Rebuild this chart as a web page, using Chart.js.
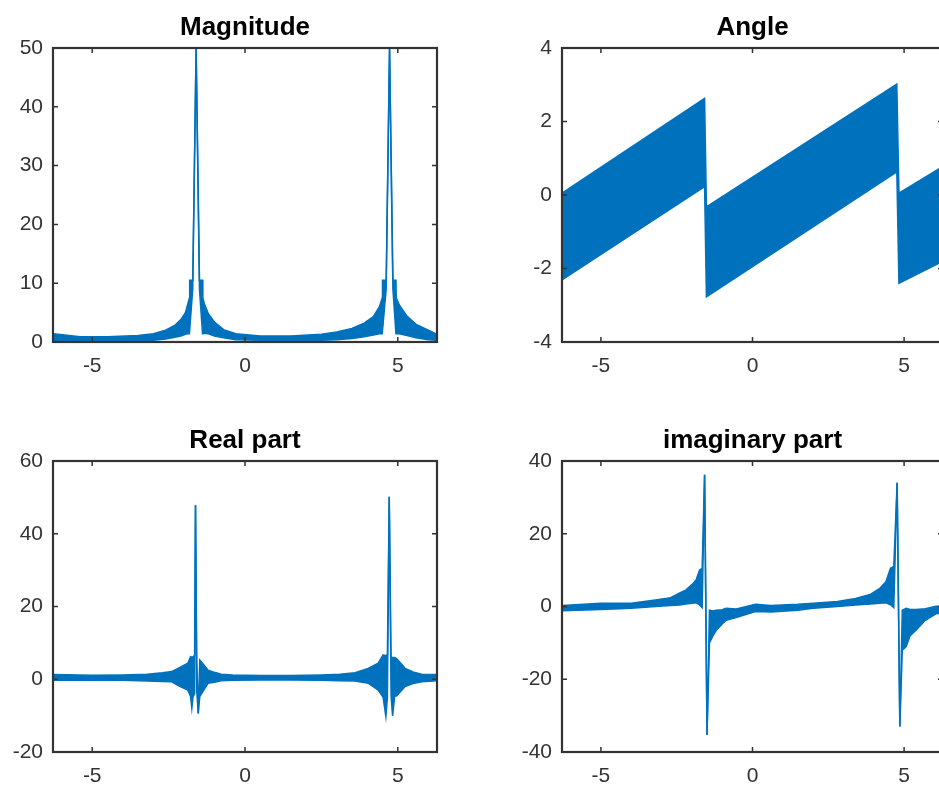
<!DOCTYPE html>
<html>
<head>
<meta charset="utf-8">
<script src="https://cdn.jsdelivr.net/npm/chart.js"></script>
<style>
  body { margin: 0; background: #fff; }
  #fig { position: relative; width: 939px; height: 789px; overflow: hidden; background: #fff; }
  #fig canvas { position: absolute; }
</style>
</head>
<body>
<div id="fig">
  <canvas id="cMag" width="490" height="395" style="left:0px;top:0px"></canvas>
  <canvas id="cAng" width="500" height="395" style="left:470px;top:0px"></canvas>
  <canvas id="cRe" width="490" height="389" style="left:0px;top:400px"></canvas>
  <canvas id="cIm" width="500" height="389" style="left:470px;top:400px"></canvas>
</div>
<script>
// tick labels
var xTicks = [-5, 0, 5];
var magTicks = [0, 10, 20, 30, 40, 50];
var angTicks = [-4, -2, 0, 2, 4];
var reTicks = [-20, 0, 20, 40, 60];
var imTicks = [-40, -20, 0, 20, 40];

// magnitude: upper / lower edge of the oscillating trace
var magX  = [-6.28, -5.9, -5.4, -4.5, -3.5, -3.0, -2.6, -2.3, -2.1, -1.95, -1.87, -1.82, -1.81, -1.71, -1.60, -1.49, -1.39, -1.38, -1.33, -1.2, -1.0, -0.7, -0.3, 0.5, 1.5, 2.5, 3.0, 3.5, 3.9, 4.2, 4.40, 4.49, 4.50, 4.62, 4.73, 4.84, 4.94, 4.95, 5.05, 5.3, 5.6, 6.0, 6.28];
var magHi = [1.4, 1.2, 0.9, 0.9, 1.1, 1.4, 2.0, 2.8, 3.8, 5.0, 6.5, 7.5, 10.5, 10.5, 50, 10.5, 10.5, 7.5, 6.5, 4.8, 3.4, 2.1, 1.4, 1.0, 1.0, 1.3, 1.7, 2.3, 3.2, 4.3, 6.0, 7.5, 10.5, 10.5, 50, 10.5, 10.5, 7.5, 6.3, 4.4, 3.0, 2.0, 1.3];
var magLo = [0.2, 0.2, 0.1, 0.1, 0.2, 0.3, 0.5, 0.8, 1.0, 1.3, 1.4, 1.4, 1.4, 9, 50, 9, 1.4, 1.4, 1.5, 1.4, 1.0, 0.7, 0.4, 0.3, 0.2, 0.3, 0.4, 0.6, 0.9, 1.2, 1.4, 1.4, 1.4, 9, 50, 9, 1.4, 1.4, 1.4, 1.1, 0.7, 0.4, 0.3];

// angle
var angX  = [-6.2832, -1.58, -1.52, 4.76, 4.83, 6.2832];
var angHi = [0.05, 2.63, -0.32, 3.02, 0.05, 0.78];
var angLo = [-2.31, 0.23, -2.77, 0.63, -2.40, -1.80];

// real part
var reX  = [-6.28, -5.0, -4.0, -3.2, -2.7, -2.4, -2.1, -1.87, -1.78, -1.74, -1.70, -1.65, -1.62, -1.58, -1.53, -1.48, -1.35, -1.21, -1.0, -0.78, -0.4, 0.5, 1.5, 2.5, 3.1, 3.6, 4.03, 4.36, 4.52, 4.61, 4.66, 4.72, 4.78, 4.83, 4.90, 4.96, 5.24, 5.5, 5.78, 6.28];
var reHi = [1.3, 1.1, 1.2, 1.4, 1.8, 2.1, 3.4, 4.4, 6.2, 6.0, 6.2, 6.5, 47.9, 5.5, -9.4, 5.3, 4.0, 2.5, 1.9, 1.4, 1.2, 1.0, 1.0, 1.2, 1.4, 1.8, 3.0, 4.4, 6.7, 6.5, 6.8, 50.2, 6.0, 6.0, 6.0, 5.7, 3.0, 2.0, 1.4, 1.3];
var reLo = [-0.3, -0.3, -0.3, -0.5, -0.6, -0.7, -2.1, -3.0, -4.8, -8.0, -4.8, -4.0, 47.9, -3.0, -9.4, -4.8, -3.0, -1.1, -0.8, -0.4, -0.3, -0.2, -0.2, -0.3, -0.4, -0.5, -1.1, -3.0, -5.0, -10.3, -5.0, 50.2, -4.6, -10.1, -4.6, -4.6, -2.0, -1.2, -0.7, -0.4];

// imaginary part
var imX  = [-6.28, -5.0, -4.0, -3.2, -2.7, -2.4, -2.2, -2.0, -1.86, -1.75, -1.66, -1.58, -1.50, -1.42, -1.30, -1.2, -1.0, -0.87, -0.54, 0.1, 0.6, 1.5, 2.0, 2.8, 3.4, 3.9, 4.2, 4.4, 4.55, 4.66, 4.77, 4.86, 4.94, 5.07, 5.2, 5.39, 5.7, 6.05, 6.28];
var imHi = [0.3, 0.9, 0.9, 1.8, 2.4, 3.7, 4.5, 6.0, 7.3, 10.0, 10.5, 36.2, -35.3, -1.0, -1.2, -1.0, -0.9, -0.5, -0.7, 0.6, 0.3, 0.6, 0.9, 1.4, 2.2, 3.4, 5.0, 6.8, 10.5, 11.0, 34.0, -33.0, -1.0, -0.5, -0.8, -0.8, -0.6, 0.1, 0.1];
var imLo = [-1.2, -0.8, -0.5, 0.0, 0.3, 0.4, 0.7, 0.9, 1.0, 0.5, -0.3, 36.2, -35.3, -10.0, -8.0, -6.6, -4.8, -3.8, -3.0, -1.4, -1.5, -1.0, -0.5, 0.0, 0.4, 0.7, 0.9, 1.0, 0.5, -0.3, 34.0, -33.0, -12.0, -11.0, -8.0, -6.5, -3.8, -2.0, -1.8];

var blue = '#0072BD';
var axisCol = '#333333';
var fontFam = "'Liberation Sans', Arial, Helvetica, sans-serif";

// matlab style box with inward ticks
var matlabBox = {
  id: 'matlabBox',
  afterDraw: function (chart) {
    var a = chart.chartArea, ctx = chart.ctx;
    var xs = chart.scales.x, ys = chart.scales.y;
    ctx.save();
    ctx.strokeStyle = axisCol;
    ctx.lineWidth = 1.5;
    ctx.beginPath();
    xs.ticks.forEach(function (t) {
      var px = xs.getPixelForValue(t.value);
      ctx.moveTo(px, a.bottom); ctx.lineTo(px, a.bottom - 5);
      ctx.moveTo(px, a.top); ctx.lineTo(px, a.top + 5);
    });
    ys.ticks.forEach(function (t) {
      var py = ys.getPixelForValue(t.value);
      ctx.moveTo(a.left, py); ctx.lineTo(a.left + 5, py);
      ctx.moveTo(a.right, py); ctx.lineTo(a.right - 5, py);
    });
    ctx.stroke();
    ctx.lineWidth = 2.2;
    ctx.strokeRect(a.left, a.top, a.right - a.left, a.bottom - a.top);
    ctx.restore();
  }
};

function drawPanel(id, title, xv, hi, lo, yTicks, box) {
  var pts = function (arr) {
    return xv.map(function (x, i) { return { x: x, y: arr[i] }; });
  };
  new Chart(document.getElementById(id), {
    type: 'line',
    data: {
      datasets: [
        { data: pts(hi), borderColor: blue, backgroundColor: blue, borderWidth: 1.5, pointRadius: 0, fill: '+1', tension: 0 },
        { data: pts(lo), borderColor: blue, backgroundColor: blue, borderWidth: 1.5, pointRadius: 0, fill: false, tension: 0 }
      ]
    },
    options: {
      responsive: false,
      animation: false,
      events: [],
      layout: { padding: { left: 0, right: box.padRight, top: 0, bottom: 0 } },
      plugins: {
        legend: { display: false },
        tooltip: { enabled: false },
        title: {
          display: true, text: title, fullSize: false, color: '#000',
          font: { family: fontFam, size: 26, weight: 'bold', lineHeight: 1.2 },
          padding: { top: box.titleTop, bottom: box.titleBottom }
        }
      },
      scales: {
        x: {
          type: 'linear', min: -6.2832, max: 6.2832,
          afterBuildTicks: function (s) { s.ticks = xTicks.map(function (v) { return { value: v }; }); },
          afterFit: function (s) { s.height = box.xh; },
          grid: { display: false, drawTicks: false },
          border: { display: false },
          ticks: { padding: 12, color: axisCol, autoSkip: false, maxRotation: 0, font: { family: fontFam, size: 21 } }
        },
        y: {
          min: yTicks[0], max: yTicks[yTicks.length - 1],
          afterBuildTicks: function (s) { s.ticks = yTicks.map(function (v) { return { value: v }; }); },
          afterFit: function (s) { s.width = box.yw; },
          grid: { display: false, drawTicks: false },
          border: { display: false },
          ticks: { padding: 10, color: axisCol, autoSkip: false, font: { family: fontFam, size: 21 } }
        }
      }
    },
    plugins: [matlabBox]
  });
}

drawPanel('cMag', 'Magnitude', magX, magHi, magLo, magTicks, { padRight: 53, yw: 53, xh: 53, titleTop: 12, titleBottom: 4.8 });
drawPanel('cAng', 'Angle', angX, angHi, angLo, angTicks, { padRight: 27, yw: 92, xh: 53, titleTop: 12, titleBottom: 4.8 });
drawPanel('cRe', 'Real part', reX, reHi, reLo, reTicks, { padRight: 53, yw: 53, xh: 37, titleTop: 25, titleBottom: 4.8 });
drawPanel('cIm', 'imaginary part', imX, imHi, imLo, imTicks, { padRight: 27, yw: 92, xh: 37, titleTop: 25, titleBottom: 4.8 });
</script>
</body>
</html>
